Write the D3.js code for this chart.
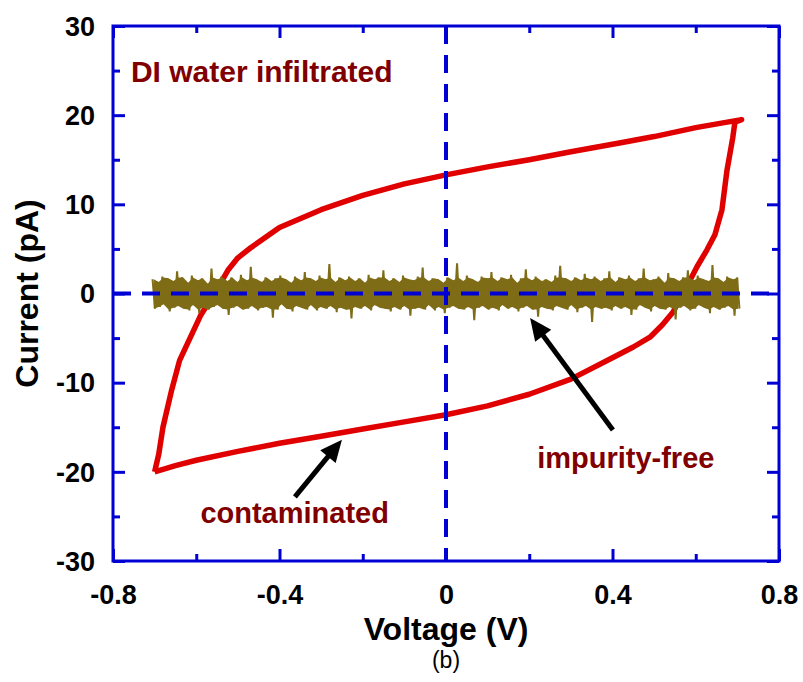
<!DOCTYPE html>
<html>
<head>
<meta charset="utf-8">
<script src="https://cdn.jsdelivr.net/npm/d3@7"></script>
<style>
  body { margin: 0; background: #fff; }
  text { font-family: "Liberation Sans", Arial, sans-serif; }
</style>
</head>
<body>
<div id="chart"></div>
<script>
// x ticks / y ticks
var xTicks = [-0.8, -0.4, 0, 0.4, 0.8];
var xTickLabels = ["-0.8", "-0.4", "0", "0.4", "0.8"];
var xMinor = [-0.6, -0.2, 0.2, 0.6];
var yTicks = [-30, -20, -10, 0, 10, 20, 30];
var yTickLabels = ["-30", "-20", "-10", "0", "10", "20", "30"];
var yMinor = [-25, -15, -5, 5, 15, 25];

// contaminated loop (voltage, current)
var loopV = [-0.70, -0.65, -0.60, -0.50, -0.40, -0.30, -0.20, -0.10, 0.00, 0.10, 0.20, 0.30, 0.40, 0.45, 0.49, 0.52, 0.545, 0.57, 0.603, 0.627, 0.646, 0.663, 0.675, 0.689, 0.694, 0.71,
             0.60, 0.50, 0.42, 0.30, 0.20, 0.10, 0.00, -0.10, -0.20, -0.30, -0.40, -0.47, -0.50, -0.524, -0.55, -0.59, -0.64, -0.66, -0.68, -0.69, -0.70];
var loopI = [-20.0, -19.3, -18.7, -17.7, -16.8, -16.0, -15.2, -14.4, -13.6, -12.6, -11.3, -9.6, -7.2, -6.0, -4.9, -3.5, -2.1, 0.0, 3.0, 4.9, 6.6, 9.4, 13.8, 17.5, 19.2, 19.5,
             18.6, 17.6, 16.9, 15.9, 15.0, 14.2, 13.3, 12.3, 11.0, 9.4, 7.4, 5.1, 4.0, 2.6, 0.5, -2.5, -7.5, -11.0, -15.0, -18.0, -20.0];

// impurity-free trace: noise around zero, sampled evenly from -0.705 V to 0.705 V
var noiseStart = -0.705, noiseEnd = 0.705;
var noiseI = [
  1.6,-1.7,1.3,-1.5,1.9,-1.2,1.7,-2.0,1.4,-1.6,2.5,-1.4,1.8,-1.7,1.2,-1.9,2.0,-1.3,1.5,-2.2,
  1.7,-1.6,1.1,-1.8,2.8,-1.5,1.6,-1.3,1.9,-1.7,1.4,-2.4,1.8,-1.6,1.3,-1.4,2.1,-1.8,1.5,-1.7,
  3.0,-1.4,1.6,-1.9,1.3,-1.6,1.8,-1.5,1.4,-2.7,1.7,-1.8,2.0,-1.2,1.6,-1.7,1.2,-2.0,1.9,-1.4,
  1.5,-1.6,2.4,-1.8,1.7,-1.3,1.4,-1.9,2.0,-1.5,1.6,-1.7,3.3,-1.4,1.3,-2.1,1.8,-1.6,1.5,-1.8,
  1.9,-2.8,1.4,-1.5,1.7,-1.7,1.2,-1.4,2.1,-1.9,1.6,-1.3,1.8,-1.6,2.6,-1.7,1.4,-2.0,1.7,-1.5,
  1.3,-1.8,2.0,-1.4,1.6,-2.5,1.5,-1.7,1.9,-1.6,2.9,-1.8,1.4,-1.3,1.7,-1.9,1.6,-1.5,1.2,-2.2,
  1.8,-1.6,1.5,-1.4,3.4,-1.7,1.4,-1.8,2.0,-1.5,1.6,-3.0,1.3,-1.6,1.9,-1.4,1.7,-1.8,2.4,-1.6,
  1.4,-1.9,1.8,-1.3,1.6,-1.7,2.1,-1.5,1.2,-2.0,1.7,-1.6,2.7,-1.4,1.5,-1.8,1.9,-2.6,1.4,-1.5,
  1.6,-1.7,1.3,-1.9,2.0,-1.4,3.1,-1.6,1.7,-1.8,1.4,-1.3,1.8,-2.1,1.5,-1.6,2.2,-1.4,1.6,-3.2,
  1.9,-1.5,1.4,-1.7,1.7,-1.6,2.5,-1.9,1.3,-1.4,1.8,-1.7,1.6,-1.5,2.0,-2.4,1.4,-1.8,1.7,-1.3,
  2.8,-1.6,1.5,-2.0,1.6,-1.4,1.9,-1.7,1.2,-1.8,2.3,-1.5,1.7,-2.9,1.4,-1.6,1.8,-1.4,2.6,-1.9,
  1.5,-1.7,2.0,-1.3,1.6,-1.6,1.4,-2.2,3.2,-1.5,1.7,-1.8,1.3,-1.6,1.9,-1.4,1.6,-2.5,1.8,-1.7
];

// annotations: text anchors and arrows in data units
var notes = [
  {text: "DI water infiltrated", v: -0.757, i: 23.7},
  {text: "impurity-free", v: 0.219, i: -19.6},
  {text: "contaminated", v: -0.59, i: -25.7}
];
var arrows = [
  {v0: -0.363, i0: -22.8, v1: -0.25, i1: -16.4},
  {v0: 0.401, i0: -15.3, v1: 0.202, i1: -2.75}
];

var W = 803, H = 682;
var margin = {top: 26, left: 113, right: 24, bottom: 121};
var width = W - margin.left - margin.right,
    height = H - margin.top - margin.bottom;

var svg = d3.select("#chart").append("svg")
    .attr("width", W)
    .attr("height", H);
var g = svg.append("g")
    .attr("transform", "translate(" + margin.left + "," + margin.top + ")");

var x = d3.scaleLinear().domain([-0.8, 0.8]).range([0, width]);
var y = d3.scaleLinear().domain([-30, 30]).range([height, 0]);

var blue = "#0000d4";
var olive = "#7f6c16";

// red loop
var loop = loopV.map(function(v, k) { return [v, loopI[k]]; });
g.append("path")
    .datum(loop)
    .attr("fill", "none")
    .attr("stroke", "#e00000")
    .attr("stroke-width", 5.5)
    .attr("stroke-linejoin", "round")
    .attr("d", d3.line().x(function(d) { return x(d[0]); }).y(function(d) { return y(d[1]); }));

// olive noise band: solid core from each up/down pair, then the raw trace on top
var step = (noiseEnd - noiseStart) / (noiseI.length - 1);
var noise = noiseI.map(function(c, k) { return [noiseStart + k * step, c]; });
var cols = [];
for (var k = 0; k + 1 < noiseI.length; k += 2) {
    cols.push({v: noiseStart + (k + 0.5) * step,
               hi: Math.min(noiseI[k], 1.8),
               lo: Math.max(noiseI[k + 1], -1.8)});
}
g.append("path")
    .datum(cols)
    .attr("fill", olive)
    .attr("d", d3.area()
        .x(function(d) { return x(d.v); })
        .y0(function(d) { return y(d.lo); })
        .y1(function(d) { return y(d.hi); }));
g.append("path")
    .datum(noise)
    .attr("fill", "none")
    .attr("stroke", olive)
    .attr("stroke-width", 2)
    .attr("d", d3.line().x(function(d) { return x(d[0]); }).y(function(d) { return y(d[1]); }));

// dashed zero lines
g.append("line")
    .attr("x1", x(-0.8)).attr("x2", x(0.8))
    .attr("y1", y(0)).attr("y2", y(0))
    .attr("stroke", blue).attr("stroke-width", 4)
    .attr("stroke-dasharray", "18,11");
g.append("line")
    .attr("x1", x(0)).attr("x2", x(0))
    .attr("y1", y(30)).attr("y2", y(-30))
    .attr("stroke", blue).attr("stroke-width", 4)
    .attr("stroke-dasharray", "18,11");

// ticks on all four sides, pointing inward
function drawTicks(axis, tr) {
    var a = g.append("g").attr("transform", tr).call(axis);
    a.select(".domain").remove();
    a.selectAll("line").attr("stroke", blue).attr("stroke-width", 3);
    return a;
}
var fmtX = function(d) { return xTickLabels[xTicks.indexOf(d)]; };

var xb = drawTicks(d3.axisBottom(x).tickValues(xTicks).tickSize(-12).tickPadding(24).tickFormat(fmtX), "translate(0," + height + ")");
drawTicks(d3.axisBottom(x).tickValues(xMinor).tickSize(-7).tickFormat(""), "translate(0," + height + ")");
drawTicks(d3.axisTop(x).tickValues(xTicks).tickSize(-12).tickFormat(""), "translate(0,0)");
drawTicks(d3.axisTop(x).tickValues(xMinor).tickSize(-7).tickFormat(""), "translate(0,0)");
drawTicks(d3.axisLeft(y).tickValues(yTicks).tickSize(-12).tickFormat(""), "translate(0,0)");
drawTicks(d3.axisLeft(y).tickValues(yMinor).tickSize(-7).tickFormat(""), "translate(0,0)");
drawTicks(d3.axisRight(y).tickValues(yTicks).tickSize(-12).tickFormat(""), "translate(" + width + ",0)");
drawTicks(d3.axisRight(y).tickValues(yMinor).tickSize(-7).tickFormat(""), "translate(" + width + ",0)");

xb.selectAll("text")
    .attr("fill", "#000").style("font-size", "27px").style("font-weight", "bold")
    .attr("dy", "0.71em");

// y tick labels
g.selectAll(".ylab")
    .data(yTicks)
    .enter()
    .append("text")
    .attr("class", "ylab")
    .attr("x", -18)
    .attr("y", function(d) { return y(d); })
    .attr("dy", "0.36em")
    .attr("text-anchor", "end")
    .attr("fill", "#000")
    .style("font-size", "27px")
    .style("font-weight", "bold")
    .text(function(d, k) { return yTickLabels[k]; });

// frame
g.append("rect")
    .attr("x", 0).attr("y", 0)
    .attr("width", width).attr("height", height)
    .attr("fill", "none")
    .attr("stroke", blue)
    .attr("stroke-width", 3);

// annotations
g.selectAll(".note")
    .data(notes)
    .enter()
    .append("text")
    .attr("class", "note")
    .attr("x", function(d) { return x(d.v); })
    .attr("y", function(d) { return y(d.i); })
    .attr("fill", "#800000")
    .style("font-size", function(d, k) { return k == 0 ? "30px" : "29px"; })
    .style("font-weight", "bold")
    .text(function(d) { return d.text; });

arrows.forEach(function(a) {
    var x0 = x(a.v0), y0 = y(a.i0), x1 = x(a.v1), y1 = y(a.i1);
    var ang = Math.atan2(y1 - y0, x1 - x0);
    var headLen = 22, headW = 10;
    var bx = x1 - headLen * Math.cos(ang), by = y1 - headLen * Math.sin(ang);
    g.append("line")
        .attr("x1", x0).attr("y1", y0)
        .attr("x2", bx + 2 * Math.cos(ang)).attr("y2", by + 2 * Math.sin(ang))
        .attr("stroke", "#000").attr("stroke-width", 5);
    var px = -Math.sin(ang) * headW, py = Math.cos(ang) * headW;
    g.append("polygon")
        .attr("points", [[x1, y1], [bx + px, by + py], [bx - px, by - py]].map(function(p) { return p.join(","); }).join(" "))
        .attr("fill", "#000");
});

// axis titles
svg.append("text")
    .attr("x", margin.left + width / 2)
    .attr("y", 640)
    .attr("text-anchor", "middle")
    .style("font-size", "32px").style("font-weight", "bold")
    .text("Voltage (V)");
svg.append("text")
    .attr("transform", "translate(38," + (margin.top + height / 2) + ") rotate(-90)")
    .attr("text-anchor", "middle")
    .style("font-size", "32px").style("font-weight", "bold")
    .text("Current (pA)");
svg.append("text")
    .attr("x", margin.left + width / 2)
    .attr("y", 668)
    .attr("text-anchor", "middle")
    .style("font-size", "23px")
    .text("(b)");
</script>
</body>
</html>
